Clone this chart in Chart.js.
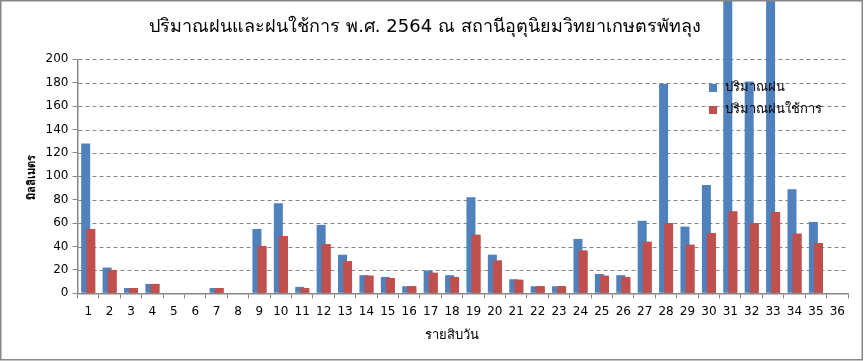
<!DOCTYPE html>
<html>
<head>
<meta charset="utf-8">
<script src="https://cdn.jsdelivr.net/npm/chart.js@4/dist/chart.umd.min.js"></script>
<style>
html,body{margin:0;padding:0;background:#fff;}
#wrap{width:864px;height:361px;position:relative;}
</style>
</head>
<body>
<div id="wrap"><canvas id="c" width="864" height="361"></canvas></div>
<script>
const titleText = 'ปริมาณฝนและฝนใช้การ พ.ศ. 2564 ณ สถานีอุตุนิยมวิทยาเกษตรพัทลุง';
const yTitle = 'มิลลิเมตร';
const xTitle = 'รายสิบวัน';
const seriesNames = ['ปริมาณฝน', 'ปริมาณฝนใช้การ'];
const categories = ['1','2','3','4','5','6','7','8','9','10','11','12','13','14','15','16','17','18','19','20','21','22','23','24','25','26','27','28','29','30','31','32','33','34','35','36'];
const rainfall = [128,22,4.5,8,0,0,4.5,0,55,77,5.5,58.5,33,15.5,14,6,19.5,15.5,82,33,12,6,6,46.5,16.5,15.5,62,179,57,92.5,260,181,258,89,61,null];
const effectiveRain = [55,20,4.5,8,0,0,4.5,0,40.5,49,4.5,42,27.5,15,13,6,17.5,14,50,28,11.5,6,6,36.5,15,14,44,60,41.5,51.5,70,60,69.5,51,43,null];
const yTicks = [0,20,40,60,80,100,120,140,160,180,200];

const BLUE = '#4F81BD', RED = '#C0504D', GRID = '#868686';
const FONT = '"DejaVu Sans", Tahoma, sans-serif';

const decor = {
  id: 'decor',
  beforeDatasetsDraw(chart) {
    // dashed horizontal gridlines at the y scale's ticks
    const ctx = chart.ctx, ys = chart.scales.y, a = chart.chartArea;
    ctx.save();
    ctx.strokeStyle = GRID;
    ctx.lineWidth = 1;
    ctx.setLineDash([4, 3]);
    ys.ticks.forEach(t => {
      if (t.value === 0) return;
      const y = Math.round(ys.getPixelForValue(t.value)) + 0.5;
      ctx.beginPath();
      ctx.moveTo(a.left + 1, y);
      ctx.lineTo(a.right, y);
      ctx.stroke();
    });
    ctx.restore();
  },
  afterDatasetsDraw(chart) {
    // red series is drawn over the blue (overlapping bars)
    chart.getDatasetMeta(1).controller.draw();
  },
  afterDraw(chart) {
    const ctx = chart.ctx;
    ctx.save();
    ctx.fillStyle = '#000';
    ctx.font = '18px ' + FONT;
    ctx.textAlign = 'center';
    ctx.textBaseline = 'middle';
    ctx.fillText(titleText, 425, 27);
    ctx.font = '13px ' + FONT;
    ctx.fillText(xTitle, 452, 336);
    ctx.save();
    ctx.translate(32, 177);
    ctx.rotate(-Math.PI / 2);
    ctx.font = 'bold 11px ' + FONT;
    ctx.fillText(yTitle, 0, 0);
    ctx.restore();
    ctx.textAlign = 'left';
    ctx.font = '13px ' + FONT;
    const cols = [BLUE, RED];
    seriesNames.forEach((n, i) => {
      const y = 88 + i * 22;
      ctx.fillStyle = cols[i];
      ctx.fillRect(709, y - 4, 8, 8);
      ctx.fillStyle = '#000';
      ctx.fillText(n, 725, y);
    });
    ctx.strokeStyle = GRID;
    ctx.lineWidth = 1.5;
    ctx.setLineDash([]);
    ctx.strokeRect(0.75, 0.75, 861.5, 359);
    ctx.restore();
  }
};

new Chart(document.getElementById('c'), {
  type: 'bar',
  data: {
    labels: categories,
    datasets: [
      { label: seriesNames[0], data: rainfall, backgroundColor: BLUE, clip: false,
        categoryPercentage: 0.4675, barPercentage: 1.8 },
      { label: seriesNames[1], data: effectiveRain, backgroundColor: RED,
        categoryPercentage: 0.4675, barPercentage: 1.8 }
    ]
  },
  options: {
    responsive: false,
    animation: false,
    devicePixelRatio: 1,
    layout: { padding: { left: 0, top: 59.3, right: 16, bottom: 0 } },
    plugins: { legend: { display: false }, tooltip: { enabled: false }, title: { display: false } },
    scales: {
      x: {
        offset: true,
        grid: { display: true, offset: true, drawOnChartArea: false, color: GRID, tickLength: 5, lineWidth: 1 },
        border: { display: true, color: GRID, width: 1.5 },
        ticks: { color: '#000', font: { family: FONT, size: 12 }, padding: 6, maxRotation: 0, autoSkip: false },
        afterFit(s) { s.height = 361 - 293.3; }
      },
      y: {
        min: 0, max: 200,
        afterBuildTicks(s) { s.ticks = yTicks.map(v => ({ value: v })); },
        grid: { color: GRID, lineWidth: 1, tickLength: 5, drawOnChartArea: false, drawTicks: true },
        border: { display: true, color: GRID, width: 1.5 },
        ticks: { color: '#000', font: { family: FONT, size: 12 }, padding: 4 },
        afterFit(s) { s.width = 77.5; }
      }
    }
  },
  plugins: [decor]
});
</script>
</body>
</html>
